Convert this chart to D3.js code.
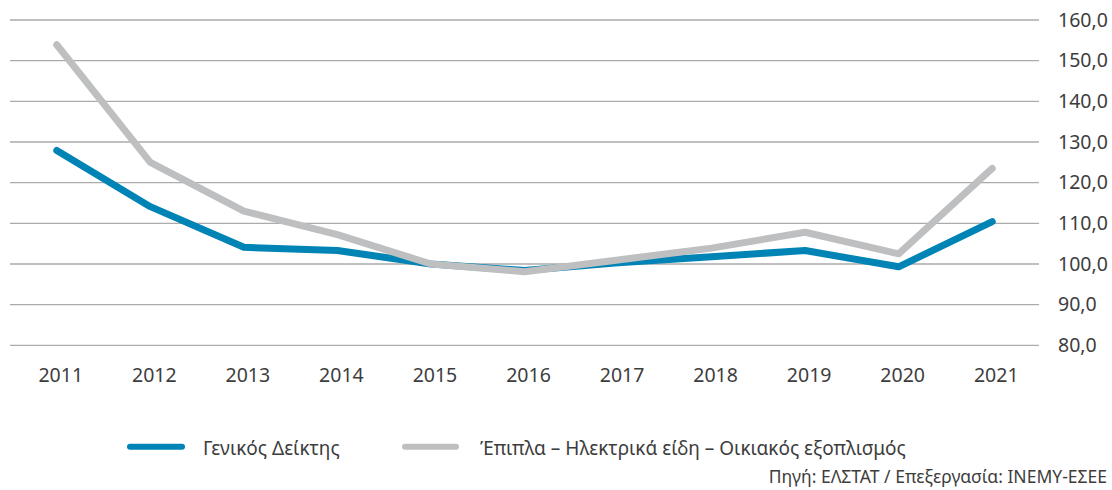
<!DOCTYPE html>
<html>
<head>
<meta charset="utf-8">
<script src="https://cdn.jsdelivr.net/npm/d3@7"></script>
<style>
  body { margin: 0; background: #fff; }
  svg { display: block; font-family: "Noto Sans", sans-serif; }
</style>
</head>
<body>
<div id="chart"></div>
<script>
const years = ['2011', '2012', '2013', '2014', '2015', '2016', '2017', '2018', '2019', '2020', '2021'];
const generalIndex = [127.9, 114.1, 104.1, 103.3, 100.0, 98.4, 100.3, 101.8, 103.3, 99.3, 110.4];
const furnitureIndex = [153.9, 125.0, 113.0, 107.2, 100.0, 98.1, 101.0, 103.9, 107.8, 102.5, 123.5];
const yTicks = [80, 90, 100, 110, 120, 130, 140, 150, 160];
const seriesNames = ['Γενικός Δείκτης', 'Έπιπλα – Ηλεκτρικά είδη – Οικιακός εξοπλισμός'];
const sourceText = 'Πηγή: ΕΛΣΤΑΤ / Επεξεργασία: INEMY-ΕΣΕΕ';

const W = 1112, H = 490;
const plot = { left: 10, right: 1039, top: 20, bottom: 345.3 };
const colors = ['#0083b5', '#bebfc1'];
const textColor = '#3d3d3d';

const svg = d3.select('#chart').append('svg')
    .attr('width', W)
    .attr('height', H);

const x = d3.scaleBand()
    .domain(years)
    .range([plot.left, plot.right]);

const y = d3.scaleLinear()
    .domain([80, 160])
    .range([plot.bottom, plot.top]);

// gridlines
svg.append('g')
    .selectAll('line')
    .data(yTicks)
    .join('line')
    .attr('x1', plot.left)
    .attr('x2', plot.right)
    .attr('y1', d => y(d))
    .attr('y2', d => y(d))
    .attr('stroke', '#ababab')
    .attr('stroke-width', 1.3);

// y axis labels on the right
const yAxis = svg.append('g')
    .attr('transform', `translate(${plot.right + 19},0)`)
    .call(d3.axisRight(y).tickValues(yTicks).tickSize(0).tickPadding(0)
        .tickFormat(d => d3.format('.1f')(d).replace('.', ',')));
yAxis.select('.domain').remove();
yAxis.selectAll('text')
    .attr('fill', textColor)
    .attr('font-size', '19.5px')
    .attr('font-family', '"Noto Sans", sans-serif');

// x axis labels
const xAxis = svg.append('g')
    .attr('transform', `translate(4,0)`)
    .call(d3.axisBottom(x).tickSize(0).tickPadding(0));
xAxis.select('.domain').remove();
xAxis.selectAll('text')
    .attr('y', 381.5)
    .attr('dy', null)
    .attr('fill', textColor)
    .attr('font-size', '19.5px')
    .attr('font-family', '"Noto Sans", sans-serif');

const line = d3.line()
    .x((d, i) => x(years[i]) + x.bandwidth() / 2)
    .y(d => y(d));

[generalIndex, furnitureIndex].forEach((data, k) => {
    svg.append('path')
        .datum(data)
        .attr('fill', 'none')
        .attr('stroke', colors[k])
        .attr('stroke-width', 7)
        .attr('stroke-linejoin', 'round')
        .attr('stroke-linecap', 'round')
        .attr('d', line);
});

// legend
const legend = [
    { name: seriesNames[0], color: colors[0], x1: 130, x2: 182, tx: 203 },
    { name: seriesNames[1], color: colors[1], x1: 405, x2: 456, tx: 480 }
];
const lg = svg.append('g').attr('transform', 'translate(0,446.7)');
legend.forEach(d => {
    lg.append('line')
        .attr('x1', d.x1)
        .attr('x2', d.x2)
        .attr('stroke', d.color)
        .attr('stroke-width', 6)
        .attr('stroke-linecap', 'round');
    lg.append('text')
        .attr('x', d.tx)
        .attr('y', 8.3)
        .attr('fill', textColor)
        .attr('font-size', '19px')
        .text(d.name);
});

svg.append('text')
    .attr('x', 1107)
    .attr('y', 483)
    .attr('text-anchor', 'end')
    .attr('fill', textColor)
    .attr('font-size', '17.5px')
    .text(sourceText);
</script>
</body>
</html>
